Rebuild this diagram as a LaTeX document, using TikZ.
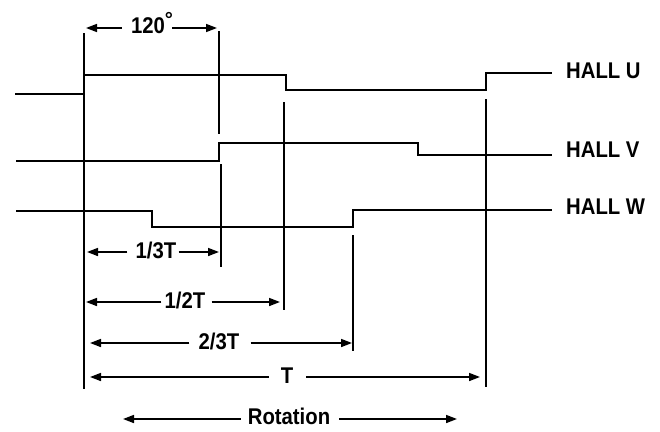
\documentclass[tikz,border=0pt]{standalone}
\usepackage{fontspec}
\setmainfont{Liberation Sans}
\usetikzlibrary{arrows.meta}
\newcommand{\tallbf}[1]{\scalebox{1}[1.12]{#1}}
\begin{document}
\begin{tikzpicture}[x=1pt,y=-1pt,
  wave/.style={line width=1.9pt,line join=miter},
  mark line/.style={line width=1.9pt},
  dim/.style={line width=1.6pt,-{Triangle[length=11pt,width=8pt]}},
  lab/.style={inner sep=0pt,font=\fontsize{20.3}{24}\selectfont\bfseries},
  hall/.style={lab,anchor=west}]
\useasboundingbox (0,0) rectangle (660,431);
% waveforms
\draw[wave] (15,94) -- (84,94) -- (84,75) -- (286,75) -- (286,90) -- (486,90) -- (486,73) -- (552,73);
\draw[wave] (16,161) -- (219,161) -- (219,143) -- (418,143) -- (418,155) -- (552,155);
\draw[wave] (16,211) -- (152,211) -- (152,227) -- (353,227) -- (353,210) -- (552,210);
\node[hall] (hu) at (566,71) {\tallbf{HALL U}};
\node[hall] (hv) at (566,150) {\tallbf{HALL V}};
\node[hall] (hw) at (566,207) {\tallbf{HALL W}};
% vertical markers
\draw[mark line] (84,33) -- (84,389);
\draw[mark line] (219,31) -- (219,134);
\draw[mark line] (221,164) -- (221,267);
\draw[mark line] (284,102) -- (284,310);
\draw[mark line] (353,235) -- (353,351);
\draw[mark line] (486,99) -- (486,387);
% arrow tips
\coordinate (a1l) at (86,28);  \coordinate (a1r) at (217,28);
\coordinate (a2l) at (87,252); \coordinate (a2r) at (219,252);
\coordinate (a3l) at (86,302); \coordinate (a3r) at (280,302);
\coordinate (a4l) at (90,343); \coordinate (a4r) at (352,343);
\coordinate (a5l) at (90,377); \coordinate (a5r) at (480,377);
\coordinate (a6l) at (123,419); \coordinate (a6r) at (457,419);
% labels
\node[lab] (t1) at (152,23.5) {\tallbf{120}\raisebox{7pt}{°}};
\node[lab] (t2) at (156,250) {\tallbf{1/3T}};
\node[lab] (t3) at (185,300) {\tallbf{1/2T}};
\node[lab] (t4) at (219,341) {\tallbf{2/3T}};
\node[lab] (t5) at (287,376) {\tallbf{T}};
\node[lab] (t6) at (289,416) {\tallbf{Rotation}};
% dimension arrows
\draw[dim] ([xshift=-9pt]t1.west |- a1l) -- (a1l);
\draw[dim] ([xshift=-1pt]t1.east |- a1r) -- (a1r);
\draw[dim] ([xshift=-8pt]t2.west |- a2l) -- (a2l);
\draw[dim] ([xshift=2pt]t2.east |- a2r) -- (a2r);
\draw[dim] ([xshift=-3pt]t3.west |- a3l) -- (a3l);
\draw[dim] ([xshift=6pt]t3.east |- a3r) -- (a3r);
\draw[dim] ([xshift=-9pt]t4.west |- a4l) -- (a4l);
\draw[dim] ([xshift=11pt]t4.east |- a4r) -- (a4r);
\draw[dim] ([xshift=-12pt]t5.west |- a5l) -- (a5l);
\draw[dim] ([xshift=13pt]t5.east |- a5r) -- (a5r);
\draw[dim] ([xshift=-7pt]t6.west |- a6l) -- (a6l);
\draw[dim] ([xshift=9pt]t6.east |- a6r) -- (a6r);
\end{tikzpicture}
\end{document}
